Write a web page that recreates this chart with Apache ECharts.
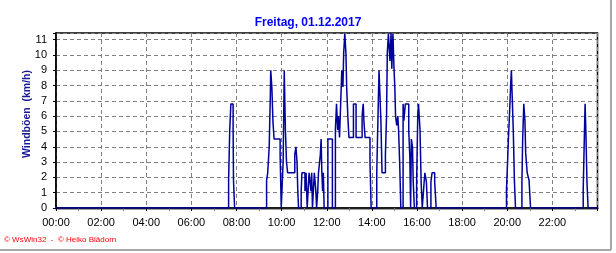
<!DOCTYPE html>
<html>
<head>
<meta charset="utf-8">
<script src="https://cdn.jsdelivr.net/npm/echarts@6/dist/echarts.min.js"></script>
<style>
html,body{margin:0;padding:0;background:#fff;}
#chart{width:616px;height:253px;}
</style>
</head>
<body>
<div id="chart"></div>
<script>
const chartTitle = 'Freitag, 01.12.2017';
const yAxisName = 'Windböen  (km/h)';
const creditText = '© WsWin32  -  © Heiko Blädorn';

// change points of the gust record (time of change, value held from then on)
const gustTimes = [
 '00:00','07:39','07:42','07:45','07:51','07:52','07:55',
 '09:20','09:23','09:27','09:30','09:31','09:34','09:37','09:40','09:56','09:59',
 '10:04','10:07','10:10','10:13','10:16','10:35','10:38','10:41','10:43','10:45',
 '10:52','10:54','11:02','11:05','11:08','11:13','11:18','11:20','11:22','11:27','11:31','11:33',
 '11:36','11:38','11:41','11:43','11:45','11:47','11:49','11:51','11:53','12:03','12:15',
 '12:23','12:26','12:29','12:31','12:34','12:37','12:40','12:43','12:45','12:48','12:51','12:53','12:56','12:59',
 '13:11','13:18','13:34','13:37','13:39','13:42','13:55','13:58',
 '14:13','14:17','14:19','14:24','14:27','14:36','14:39','14:41','14:44','14:48','14:51','14:53','14:56','14:59',
 '15:01','15:03','15:06','15:09','15:11','15:14','15:17','15:23','15:25','15:29','15:38','15:41','15:43',
 '15:45','15:48','15:50','15:53','15:59','16:02','16:04','16:08','16:11','16:14',
 '16:19','16:21','16:25','16:28','16:37','16:40','16:47','16:51',
 '19:58','20:01','20:03','20:06','20:09','20:11','20:13','20:16','20:19','20:22',
 '20:39','20:41','20:44','20:47','20:49','20:53','20:58','21:02',
 '23:22','23:25','23:27','23:29','23:32','23:35','24:00'
];
const gustValues = [
 0,1.8,5.1,6.8,5.1,1.8,0,
 1.8,2.3,4.0,7.4,9.0,7.9,5.6,4.5,3.5,0,
 3.0,9.0,5.1,3.0,2.3,3.5,4.0,3.0,1.1,0,
 1.1,2.3,1.1,2.3,0,2.3,1.1,2.3,0,2.3,1.1,0,
 1.1,2.3,3.0,3.5,4.5,2.3,1.1,2.3,0,4.5,0,
 5.1,6.8,5.1,6.0,4.6,6.8,9.0,7.9,10.1,11.4,10.1,7.9,6.0,4.6,
 6.8,4.6,6.0,6.8,5.6,4.6,3.0,0,
 2.3,6.8,9.0,5.7,2.3,3.5,6.0,10.1,11.4,9.6,11.4,9.1,11.4,9.0,
 7.9,6.0,5.4,6.0,5.1,2.9,0,6.8,5.7,6.8,5.1,3.3,0,
 4.5,4.0,1.7,0,1.7,6.0,6.8,5.1,1.7,0,
 1.7,2.3,1.7,0,1.7,2.3,1.7,0,
 1.2,3.1,4.5,6.1,8.0,9.0,7.4,5.1,1.8,0,
 1.7,4.5,6.8,5.7,3.6,2.3,1.8,0,
 1.2,4.6,6.8,5.1,1.7,0,0
];
const yTicks = [0,1,2,3,4,5,6,7,8,9,10,11];
const xTickHours = [0,2,4,6,8,10,12,14,16,18,20,22];

function toHours(t){ const p=t.split(':'); return (+p[0]) + (+p[1])/60; }
const seriesData = gustTimes.map((t,i)=>[toHours(t), gustValues[i]]);

const chart = echarts.init(document.getElementById('chart'), null, {renderer:'canvas'});
const gridLineStyle = {color:'#808080', type:[4,3], width:1};
chart.setOption({
  animation:false,
  backgroundColor:'#ffffff',
  title:{
    text:chartTitle, left:'center', top:12,
    textStyle:{color:'#0000ff', fontSize:12, fontWeight:'bold', fontFamily:'Liberation Sans'}
  },
  grid:{left:56, right:18.5, top:33, bottom:45, show:true, borderColor:'#000', borderWidth:1.5, backgroundColor:'transparent'},
  xAxis:[{
    type:'value', min:0, max:24, interval:2,
    axisLine:{show:true, onZero:false, lineStyle:{color:'#808080', width:2.5}},
    axisTick:{show:true, length:3, lineStyle:{color:'#808080'}},
    minorTick:{show:true, splitNumber:2, length:3, lineStyle:{color:'#808080'}},
    axisLabel:{color:'#000', fontSize:11, fontFamily:'Liberation Sans', margin:9,
      formatter:v=> xTickHours.indexOf(v)>=0 ? String(v).padStart(2,'0')+':00' : ''},
    splitLine:{show:true, lineStyle:gridLineStyle}
  },{
    type:'value', min:0, max:24, interval:2, position:'top',
    axisLine:{show:true, lineStyle:{color:'#000', width:1.5}},
    axisTick:{show:true, inside:true, length:3, lineStyle:{color:'#000'}},
    axisLabel:{show:false}, splitLine:{show:false}
  }],
  yAxis:{
    type:'value', min:0, max:11.43, interval:1,
    axisLine:{show:true, lineStyle:{color:'#000', width:1.5}},
    axisTick:{show:true, length:3, lineStyle:{color:'#000'}},
    axisLabel:{color:'#000', fontSize:11, fontFamily:'Liberation Sans', margin:9,
      formatter:v=> yTicks.indexOf(v)>=0 ? String(v) : ''},
    splitLine:{show:true, lineStyle:gridLineStyle}
  },
  series:[{
    type:'line', step:'end', xAxisIndex:0, showSymbol:false, symbol:'none',
    data:seriesData, lineStyle:{color:'#00009c', width:1.5}, clip:true, z:5
  }],
  graphic:[
    {type:'text', x:27, y:114, rotation:Math.PI/2,
      style:{text:yAxisName, fill:'#1a1a96', fontSize:10.5, fontWeight:'bold', fontFamily:'Liberation Sans', align:'center', verticalAlign:'middle'}},
    {type:'text', left:4, top:236, style:{text:creditText, fill:'#ff0000', fontSize:8, fontFamily:'Liberation Sans'}},
    {type:'line', shape:{x1:611, y1:0, x2:611, y2:250}, style:{stroke:'#a8a8a8', lineWidth:2}},
    {type:'line', shape:{x1:0, y1:250, x2:611, y2:250}, style:{stroke:'#a8a8a8', lineWidth:2}}
  ]
});
</script>
</body>
</html>
